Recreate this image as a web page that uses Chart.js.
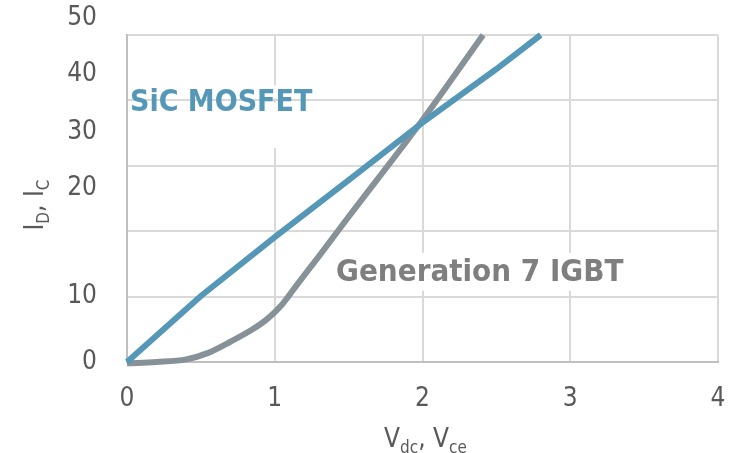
<!DOCTYPE html>
<html>
<head>
<meta charset="utf-8">
<script src="https://cdn.jsdelivr.net/npm/chart.js@4.4.1/dist/chart.umd.min.js"></script>
<style>
  html, body { margin: 0; padding: 0; background: #ffffff; }
  #wrap { width: 735px; height: 453px; position: relative; }
</style>
</head>
<body>
<div id="wrap"><canvas id="chart"></canvas></div>
<script>
// Output characteristics: current vs. on-state voltage
const seriesNames = ['SiC MOSFET', 'Generation 7 IGBT'];
const mosfetV = [0, 0.5, 1.0, 1.5, 2.0, 2.5, 2.8];
const mosfetI = [0, 10.1, 19.1, 27.8, 36.6, 44.8, 50];
const igbtV = [0, 0.2, 0.4, 0.55, 0.7, 0.85, 0.95, 1.05, 1.15, 1.3, 1.5, 2.0, 2.41];
const igbtI = [-0.2, 0.0, 0.4, 1.4, 3.1, 5.0, 6.6, 8.8, 11.8, 16.2, 22.2, 37.0, 50];
const xTickLabels = ['0', '1', '2', '3', '4'];
const yTickLabels = ['0', '10', '20', '30', '40', '50'];
const yGridValues = [0, 10, 20, 30, 40, 50];

const FONT = "'DejaVu Sans Condensed', 'DejaVu Sans', sans-serif";
const BLUE = '#5497b6';
const GREY_LINE = '#879298';
const GREY_TEXT = '#7f7f7f';
const TICK_TEXT = '#595959';
const GRID = '#d9d9d9';

// where each y tick label sits along the current axis
const yLabelAnchors = [0, 10, 26.5, 35.2, 44.0, 52.5];

const toPoints = (xs, ys) => xs.map((v, i) => ({ x: v, y: ys[i] }));

// Mixed text with subscripts, centred on the current origin along +x
function drawSubscripted(ctx, parts, mainSize, subSize, subDrop) {
  let w = 0;
  parts.forEach(p => {
    ctx.font = (p.sub ? subSize : mainSize) + 'px ' + FONT;
    w += ctx.measureText(p.t).width;
  });
  let x = -w / 2;
  parts.forEach(p => {
    ctx.font = (p.sub ? subSize : mainSize) + 'px ' + FONT;
    ctx.fillText(p.t, x, p.sub ? subDrop : 0);
    x += ctx.measureText(p.t).width;
  });
}

const annotations = {
  id: 'annotations',
  beforeDatasetsDraw(chart) {
    // white boxes behind the series captions interrupt the vertical grid lines
    const { ctx, scales: { x, y } } = chart;
    ctx.save();
    ctx.fillStyle = '#ffffff';
    const masks = [
      { v: 1, from: 42.3, to: 40.3 },
      { v: 1, from: 39.7, to: 32.7 },
      { v: 2, from: 16.7, to: 10.9 },
      { v: 3, from: 16.7, to: 10.9 }
    ];
    masks.forEach(m => {
      const px = x.getPixelForValue(m.v);
      const y1 = y.getPixelForValue(m.from), y2 = y.getPixelForValue(m.to);
      ctx.fillRect(px - 2, y1, 4, y2 - y1);
    });
    ctx.restore();
  },
  afterDatasetsDraw(chart) {
    const { ctx, scales: { x, y } } = chart;
    ctx.save();
    ctx.textBaseline = 'alphabetic';
    ctx.textAlign = 'left';
    ctx.font = 'bold 30px ' + FONT;
    ctx.fillStyle = BLUE;
    ctx.fillText(chart.data.datasets[0].label, x.getPixelForValue(0.02), y.getPixelForValue(38.4));
    ctx.font = 'bold 31px ' + FONT;
    ctx.fillStyle = GREY_TEXT;
    ctx.fillText(chart.data.datasets[1].label, x.getPixelForValue(1.415), y.getPixelForValue(12.4));
    ctx.restore();
  },
  afterDraw(chart) {
    const { ctx, chartArea } = chart;
    ctx.save();
    ctx.fillStyle = TICK_TEXT;
    ctx.textBaseline = 'alphabetic';
    ctx.textAlign = 'left';
    // x axis title
    ctx.save();
    ctx.translate((chartArea.left + chartArea.right) / 2 + 3, 447);
    drawSubscripted(ctx, [
      { t: 'V' }, { t: 'dc', sub: true }, { t: ', V' }, { t: 'ce', sub: true }
    ], 26, 17, 6);
    ctx.restore();
    // y axis title
    ctx.save();
    ctx.translate(43, 205);
    ctx.rotate(-Math.PI / 2);
    drawSubscripted(ctx, [
      { t: 'I' }, { t: 'D', sub: true }, { t: ', I' }, { t: 'C', sub: true }
    ], 26, 17, 6);
    ctx.restore();
    ctx.restore();
  }
};

new Chart(document.getElementById('chart'), {
  type: 'scatter',
  data: {
    datasets: [
      {
        label: seriesNames[0],
        data: toPoints(mosfetV, mosfetI),
        showLine: true,
        borderColor: BLUE,
        backgroundColor: BLUE,
        borderWidth: 6,
        pointRadius: 0,
        tension: 0,
        clip: 10
      },
      {
        label: seriesNames[1],
        data: toPoints(igbtV, igbtI),
        showLine: true,
        borderColor: GREY_LINE,
        backgroundColor: GREY_LINE,
        borderWidth: 6,
        pointRadius: 0,
        cubicInterpolationMode: 'monotone',
        clip: 10
      }
    ]
  },
  options: {
    responsive: true,
    maintainAspectRatio: false,
    animation: false,
    layout: { padding: { top: 35, right: 17, left: 0, bottom: 0 } },
    plugins: { legend: { display: false }, tooltip: { enabled: false } },
    scales: {
      x: {
        type: 'linear',
        min: 0,
        max: 4,
        afterBuildTicks(scale) {
          scale.ticks = xTickLabels.map(l => ({ value: Number(l) }));
        },
        afterFit(scale) {
          scale.height = 91;
          scale.paddingLeft = 0;
          scale.paddingRight = 0;
        },
        grid: { color: GRID, lineWidth: 2, drawTicks: false },
        border: { color: '#bfbfbf', width: 2 },
        ticks: {
          autoSkip: false,
          padding: 22,
          color: TICK_TEXT,
          font: { family: FONT, size: 26 },
          maxRotation: 0,
          callback: v => xTickLabels[xTickLabels.indexOf(String(v))]
        }
      },
      y: {
        type: 'linear',
        min: 0,
        max: 50,
        afterBuildTicks(scale) {
          const vals = yGridValues.concat(yLabelAnchors).filter((v, i, a) => a.indexOf(v) === i).sort((a, b) => a - b);
          scale.ticks = vals.map(v => ({ value: v }));
        },
        afterFit(scale) {
          scale.width = 127;
          scale.paddingTop = 0;
          scale.paddingBottom = 0;
        },
        grid: {
          lineWidth: 2,
          drawTicks: false,
          color: ctx => (ctx.tick && yGridValues.includes(ctx.tick.value)) ? GRID : 'rgba(0,0,0,0)'
        },
        border: { color: '#bfbfbf', width: 2 },
        ticks: {
          autoSkip: false,
          padding: 30,
          color: TICK_TEXT,
          font: { family: FONT, size: 26 },
          callback: v => {
            const k = yLabelAnchors.indexOf(v);
            return k >= 0 ? yTickLabels[k] : '';
          }
        }
      }
    }
  },
  plugins: [annotations]
});
</script>
</body>
</html>
